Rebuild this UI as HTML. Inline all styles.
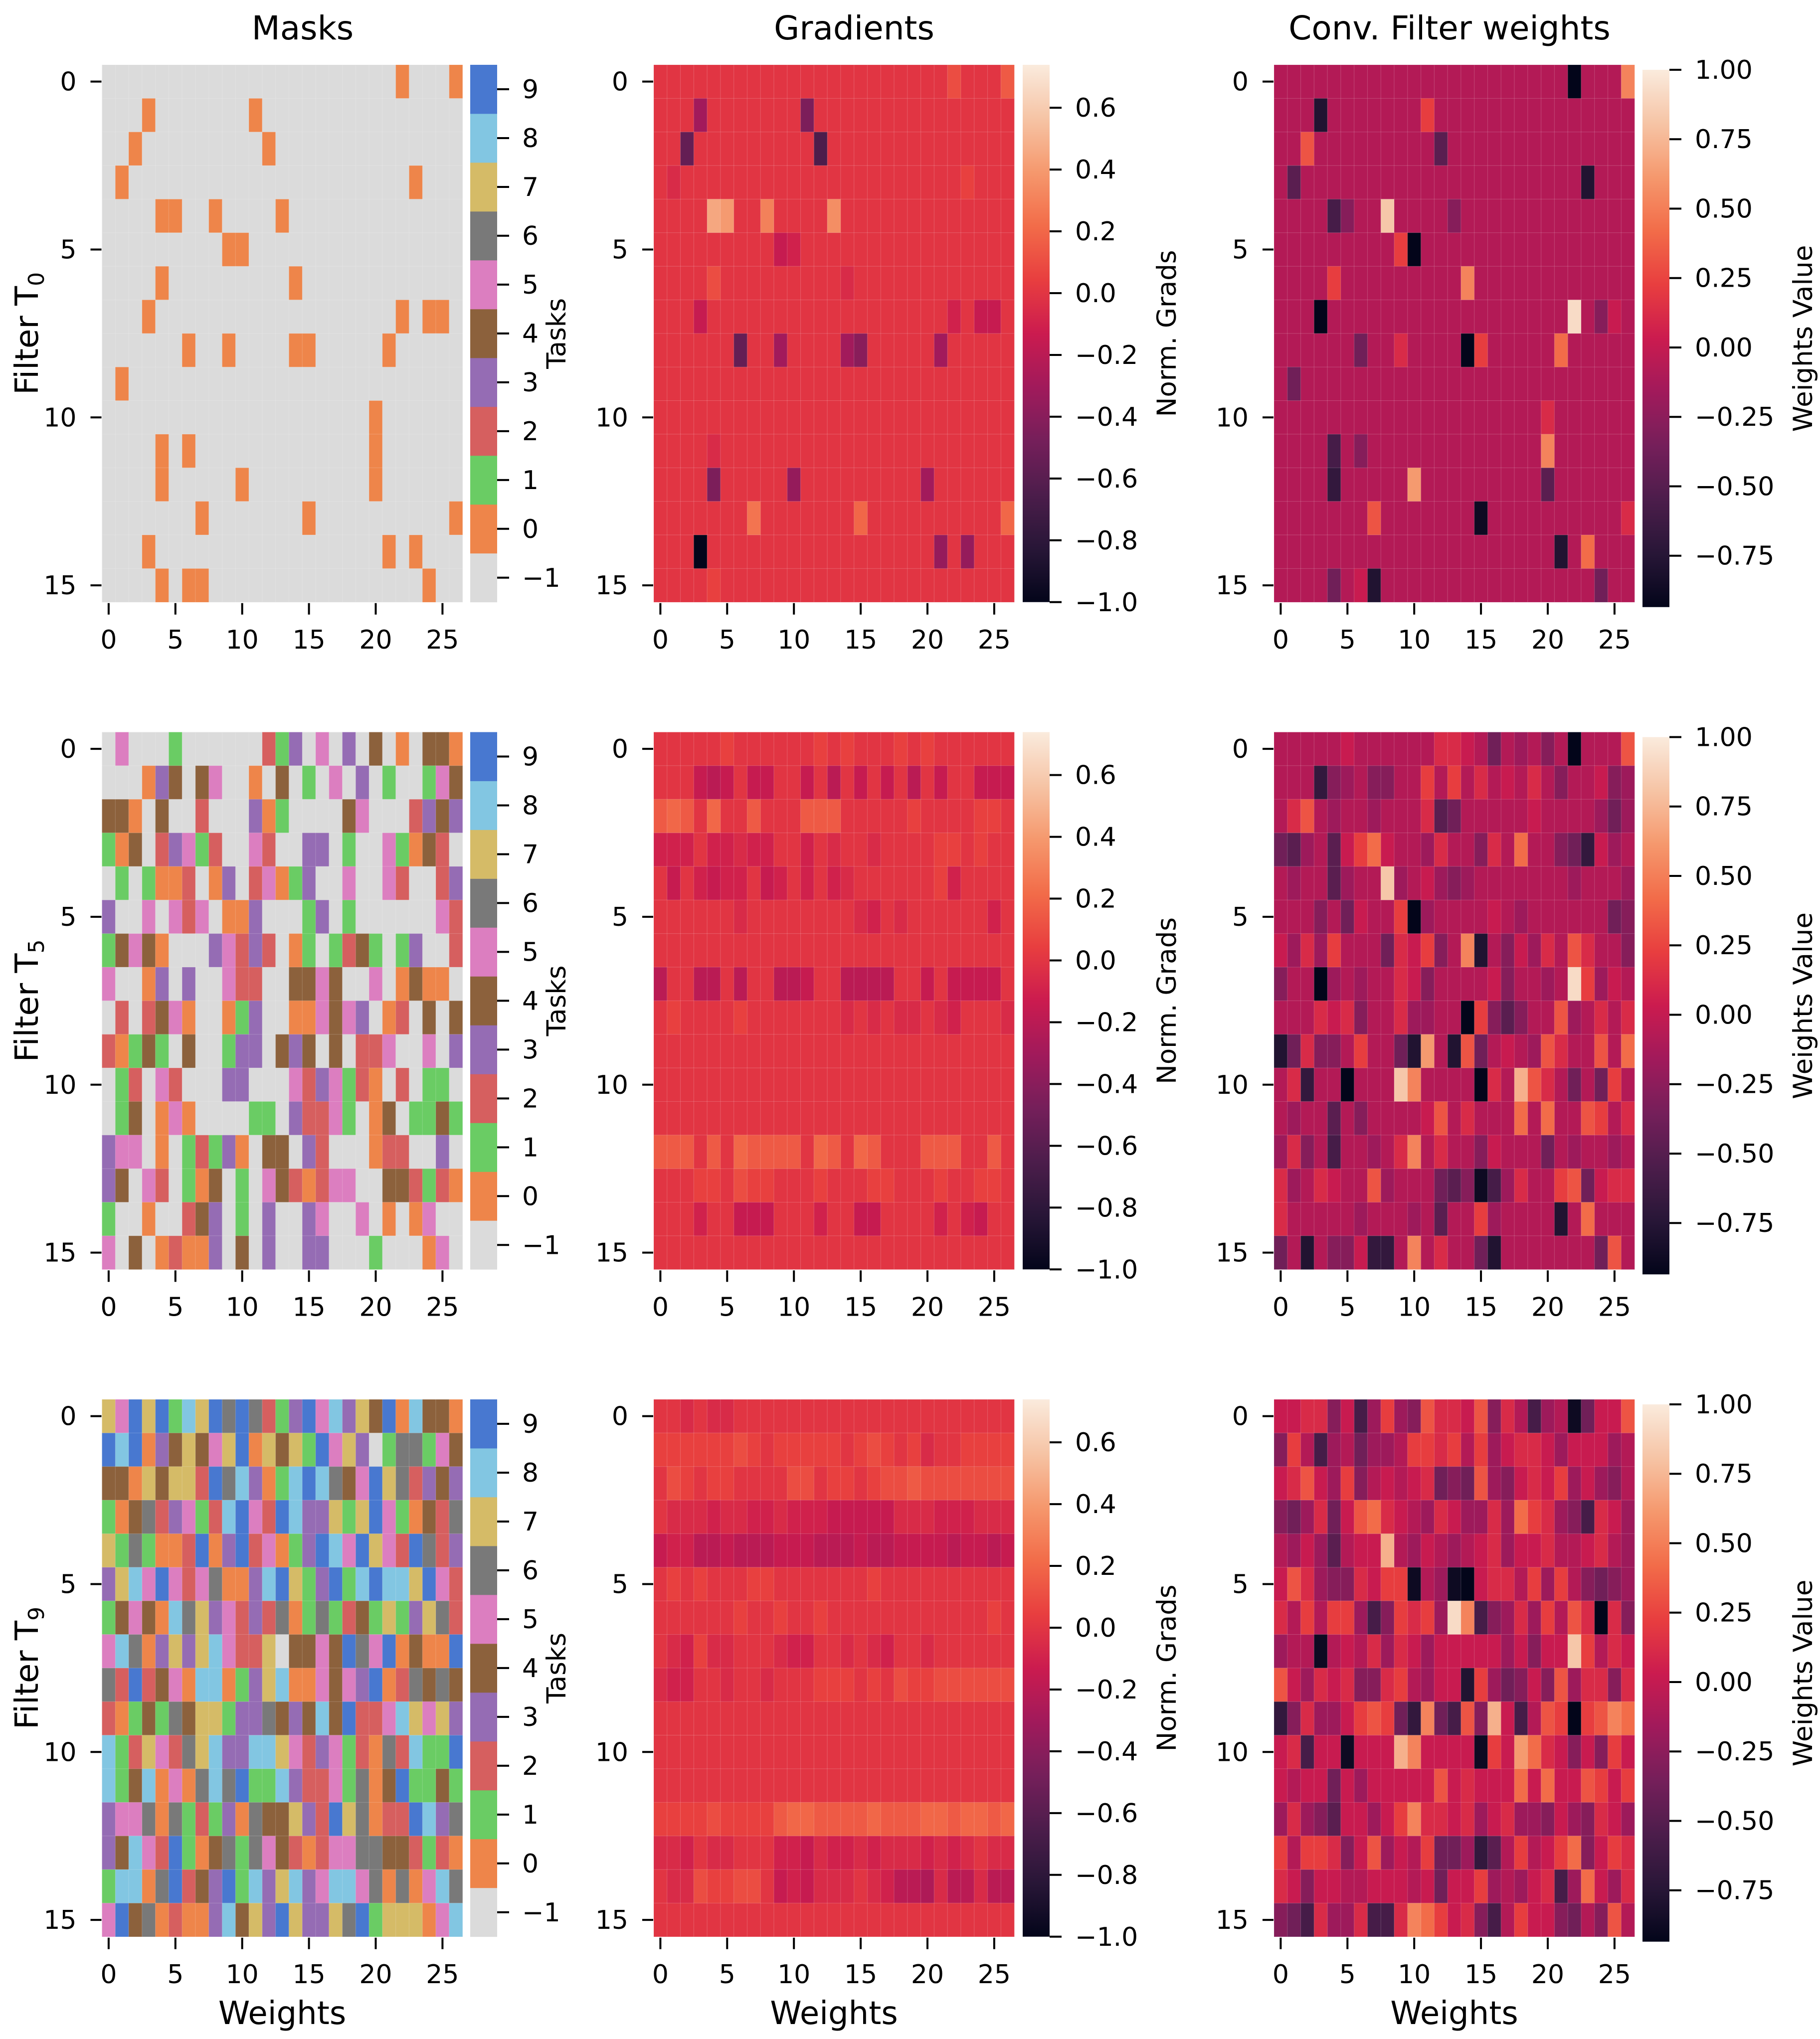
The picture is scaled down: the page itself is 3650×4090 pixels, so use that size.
<!DOCTYPE html>
<html>
<head>
<meta charset="utf-8">
<style>
html,body{margin:0;padding:0;background:#fff;}
svg{display:block;}
text{font-family:"DejaVu Sans","Liberation Sans",sans-serif;fill:#000;}
</style>
</head>
<body>
<svg id="fig" xmlns="http://www.w3.org/2000/svg" width="3650" height="4090" viewBox="0 0 3650 4090">
<rect x="0" y="0" width="3650" height="4090" fill="#fff"/>
<defs id="defs"></defs>
</svg>
<script>
// ---------- DATA ----------
// Masks: '.' = -1 (no task), digits = task id
const maskT0 = [
"......................0...0",
"...0.......0...............",
"..0.........0..............",
".0.....................0...",
"....00..0....0.............",
".........00................",
"....0.........0............",
"...0..................0.00.",
"......0..0....00.....0.....",
".0.........................",
"....................0......",
"....0.0.............0......",
"....0.....0.........0......",
".......0.......0..........0",
"...0.................0.0...",
"....0.00................0.."
];
const maskT5 = [
".5...1......213.5.3.4.0.440",
"...034.45..0.4.1.5.3.1..154",
"440.4..2...301....45...2343",
"104.23512..52..33.1..51042.",
".1.1002.03.25013..5..52..23",
"3..5.525.003...13.1......52",
"14540...35232.01.1241.13..2",
"5..03.3..522..4454..5.0400.",
".2.2450..013..005453.02.4.4",
"20141.4..133.434.4.225..5.3",
".12.52...33...5235120.2.11.",
".14.050....11.32251.04.1141",
"355.0.12130.44.32...022..3.",
"34.52.104.1.5420255..442120",
"1..0..243.1.3..35..5.0.05..",
"5.4.02003.4.3..33...1...05."
];
const maskT9 = [
"759791879696213958374908440",
"98903474579074719573.166154",
"440747729683018986459762343",
"104623512895298337179510426",
"716100290392501398597529623",
"378595256003897139189887952",
"145408673523260161241713762",
"5860373785227.4454965904009",
"629245088013780054539026464",
"201416477133643484922587573",
"812752678338875235120628119",
"814805068691183225160491141",
"355606121306447329760229836",
"348529104616542025566442120",
"188069243918378358856060586",
"594602003847397337691777058"
];
// Gradients: code index i -> value -1 + 0.05*i  (U = 0.0)
const gradCodes = "ABCDEFGHIJKLMNOPQRSTUVWXYZabcdefghijklmnopqrstuvwxyz";
const gradT0 = [
"UUUUUUUUUUUUUUUUUUUUUUWUUUX",
"UUUOUUUUUUULUUUUUUUUUUUUUUU",
"UUJUUUUUUUUUHUUUUUUUUUUUUUU",
"UTUUUUUUUUUUUUUUUUUUUUUVUUU",
"UUUUdcUUaUUUUbUUUUUUUUUUUUU",
"UUUUUUUUURSUUUUUUUUUUUUUUUU",
"UUUUWUUUUUUUUUTUUUUUUUUUUUU",
"UUURUUUUUUUUUUUUUUUUUUSURRU",
"UUUUUUJUUOUUUUOMUUUUUOUUUUU",
"UUUUUUUUUUUUUUUUUUUUUUUUUUU",
"UUUUUUUUUUUUUUUUUUUUUUUUUUU",
"UUUUTUUUUUUUUUUUUUUUUUUUUUU",
"UUUULUUUUUNUUUUUUUUUOUUUUUU",
"UUUUUUUZUUUUUUUYUUUUUUUUUUY",
"UUUAUUUUUUUUUUUUUUUUUNUNUUU",
"UUUUVUUUUUUUUUUUUUUUUUUUUUU"
];
const gradT5 = [
"UUUUUVUUUUUUVUVUUUVUVUUUUUU",
"UUURQRURRUURUQURURUQURUURRR",
"XYXUYUUXUUUXXXUUUUUVUUUUVVU",
"SSSUSSTSSUUSUTUUTUUUUVVUVUU",
"URUSRSSURSUSUSTUUUUUUVSUUUU",
"UUUUUUTUUUUUUUUTSUTUUUUUUSU",
"UUUUUUUUUUUUUUUUUUUUUUUUUUU",
"QUUQQUQUUQQRUUQQQQUURURRRRU",
"UVUUUUVUUUUUUUTUTUTTUTSUUUT",
"UUUUUUUUUUUUUUUUUUUUUUUUUUU",
"UUUUUUUUUUUUUUUUUUUUUUUUUUU",
"UUUUUUUUUUUUUUUUUUUUUUUUUUU",
"XXXUXUYXXXXUYXUYXUUUXXXUUXU",
"UUUVVUWVVUUUVUUUVVUUUVUUVVU",
"UUUSUURRRUUUSUURRUUUUSUSRUU",
"UUUUUUUUUUUUUUUUUUUUUUUUUUU"
];
const gradT9 = [
"UUTUTTUUUUUUUUUUUUUUUUUUUUU",
"VVVVVVWVUVVVVVUVWVUVTUUVVVV",
"UWVUVVUUUUWWUVVUVWWXWWWWWWW",
"UTTTSTTSSTSSSRRRRRTTTSSSTTT",
"RSSQQRQQQRRRQQQRQQRRRRQRRQR",
"UVUVUUUVVUUUUUUUVUUUUUUUUUU",
"UUUUUUVUUVUUVUUUUUUUUUUUUVU",
"UTSVTTUUUTSSUUTUTSUUTUUUUUU",
"TSSUUTUUTUUUVVVUVUWVVWWWWWW",
"UUUUUUUUUUUUUUUUUUUUUUUUUUU",
"UUUUUUUUUUUUUUUUUUUUUUUUUUU",
"UUUUUUUUUUUUUUUUUUUUUUUUUUU",
"VVVVWVVVVXYYXXXXYXXXYYXYYXY",
"TTSUTTUUUSSRTSSTSTTTSTSTUTT",
"UTTWVVWWURSRTTTUTSQQPTQQTQQ",
"UUUUUUUUUUUUUUUUUUUUUUUUUUU"
];
// Weights: code index i -> value -0.98 + 0.1*i
const weightCodes = "ABCDEFGHIJKLMNOPQRST";
const wT0 = [
"JJJJJJJJJJJJJJJJJJJJJJAJJJP",
"JJJCJJJJJJJMJJJJJJJJJJJJJJJ",
"JJNJJJJJJJJJFJJJJJJJJJJJJJJ",
"JFJJJJJJJJJJJJJJJJJJJJJCJJJ",
"JJJJEHJJSJJJJHJJJJJJJJJJJJJ",
"JJJJJJJJJMAJJJJJJJJJJJJJJJJ",
"JJJJMJJJJJJJJJPJJJJJJJJJJJJ",
"JJJAJJJJJJJJJJJJJJJJJJTJHKJ",
"JJJJJJGJJLJJJJAMJJJJJOJJJJJ",
"JGJJJJJJJJJJJJJJJJJJJJJJJJJ",
"JJJJJJJJJJJJJJJJJJJJLJJJJJJ",
"JJJJEJHJJJJJJJJJJJJJPJJJJJJ",
"JJJJDJJJJJQJJJJJJJJJFJJJJJJ",
"JJJJJJJNJJJJJJJBJJJJJJJJJJL",
"JJJJJJJJJJJJJJJJJJJJJCJOJJJ",
"JJJJGJKCJJJJJJJJJJJJJJJJGJJ"
];
const wT5 = [
"JJJJJKJJJJJJLLKJGJIJHJAJJJN",
"JJJDHIJHHJJMJMJLJKJLJHJJKHI",
"JLNJIJJIJJJLFGJJJJJKJJJJIGI",
"GFIJFKMOKJJILJJHLJOJJHGDKIJ",
"JIJJFIJJSIJKIHIJJJJJJJIJJJI",
"JJJHJGKJJMAIJJJJKJIJJJJJJGH",
"KILIMJJJGLKMHJPCJHKILJNLJJH",
"HJJAIJIJJLKHJJJJKHJJIJTMIKJ",
"JJJLKLHJJLIIJJAMHFHJJNIJLJL",
"CGLHHJMJJGCQJCNGJKJINLJJNJO",
"JLDJJAJJJSPJJJJALJRNLJGJGMJ",
"JIJJFJHJJJJKNJLJJJOJOJJNMJL",
"ILHJEJJIJLPJLJJHKJJJGJIJJIJ",
"LIJLKJJNIJJJGFHBEILJJMNGKLL",
"LJJJJJIJJJIJFJJMIJJJJCJOJJJ",
"GJCJHHKDDJPJLJJGCJJJJJJJGNJ"
];
const wT9 = [
"KKLLHKEIMIHNLLKNHLJEIJBGKKN",
"HMJEIJGIIJMMLMJMIKLLKIKKKIJ",
"KLNKIMHJKJKLGHGNIHKLKMIKIHJ",
"HGILGKNOLKJILKIILIOMLIHELKI",
"JIKIFJKKRJIKJIJKLIKKLJJKLJI",
"KNLIHHLKMMBJIBAKLLJMIMJHGHI",
"LJMJMMIEHMLMITPEHILIMJNLALH",
"IJJBJKJLILKIKKKKKIKHKKSMJLK",
"NKILKLHHLMJIKKCMIGHKHNILLHL",
"DHLIIKMNMGDPGENHRKEJNMAMNPO",
"KLEKKBKKKRPKKKKBMKQOLKHKHMK",
"KJKKGKIKKKKKNKLKKKOKOKKNMKM",
"ILIHFKKIKMPLLKLIKLIIHKIHLKI",
"MJMMLHKNIKJMGGIDFJMJKMOHKML",
"LKHKKJJKKKJKGKKMIJIKLEIOKIL",
"HGELIILEELPOMKLHEJMKKHGJHNJ"
];
const colTitles = ["Masks", "Gradients", "Conv. Filter weights"];
const rowTasks = ["0", "5", "9"];
const xTicks = [0, 5, 10, 15, 20, 25];
const yTicks = [0, 5, 10, 15];
const taskTicks = [-1, 0, 1, 2, 3, 4, 5, 6, 7, 8, 9];
const gradTicks = [-1.0, -0.8, -0.6, -0.4, -0.2, 0.0, 0.2, 0.4, 0.6];
const weightTicks = [-0.75, -0.5, -0.25, 0.0, 0.25, 0.5, 0.75, 1.0];

// ---------- SCALES / STYLE ----------
const NS = "http://www.w3.org/2000/svg";
const svg = document.getElementById("fig");
const defs = document.getElementById("defs");
const NCOL = 27, NROW = 16;
const X0 = [204.5, 1311, 2555];
const Y0 = [130, 1468.5, 2807];
const CW = 26.78, CH = 67.36;
const HW = CW * NCOL, HH = CH * NROW;
const CB_X = [943, 2051, 3294], CB_W = 54;
const GRAD_MIN = -1.0, GRAD_MAX = 0.739;
const W_MIN = -0.935, W_MAX = 1.0, W_OFF = 10;
const taskColors = {"-1":"#dbdbdb","0":"#ee854a","1":"#6acc64","2":"#d65f5f","3":"#956cb4","4":"#8c613c","5":"#dc7ec0","6":"#797979","7":"#d5bb67","8":"#82c6e2","9":"#4878d0"};
const rocketStops = [[0,[3,5,26]],[0.1,[40,22,55]],[0.2,[76,29,75]],[0.3,[117,31,90]],[0.4,[161,26,91]],[0.5,[203,27,79]],[0.6,[232,62,63]],[0.7,[242,108,73]],[0.8,[245,152,109]],[0.9,[246,196,165]],[1.0,[250,235,221]]];
function rocket(f){
  f = Math.max(0, Math.min(1, f));
  for (let i = 1; i < rocketStops.length; i++){
    if (f <= rocketStops[i][0]){
      const [a, ca] = rocketStops[i-1], [b, cb] = rocketStops[i];
      const t = (f - a) / (b - a);
      const c = ca.map((v, k) => Math.round(v + (cb[k] - v) * t));
      return "rgb(" + c.join(",") + ")";
    }
  }
  return "rgb(250,235,221)";
}
function xPos(c, j){ return X0[c] + j * CW; }
function yPos(r, i){ return Y0[r] + i * CH; }
function gradVal(ch){ const i = gradCodes.indexOf(ch); return -1 + 0.05 * (i < 0 ? 20 : i); }
function weightVal(ch){ const i = weightCodes.indexOf(ch); return -0.98 + 0.1 * (i < 0 ? 9 : i); }
function gradY(r, v){ return Y0[r] + HH * (GRAD_MAX - v) / (GRAD_MAX - GRAD_MIN); }
function weightY(r, v){ return Y0[r] + W_OFF + HH * (W_MAX - v) / (W_MAX - W_MIN); }
function fmt(v, d){ const s = Math.abs(v).toFixed(d); return (v < -1e-9 ? "\u2212" : "") + s; }

function el(tag, attrs, parent){
  const e = document.createElementNS(NS, tag);
  for (const k in attrs) e.setAttribute(k, attrs[k]);
  (parent || svg).appendChild(e);
  return e;
}
function txt(str, attrs, parent){
  const t = el("text", attrs, parent);
  t.textContent = str;
  return t;
}

// ---------- DRAW ----------
const datasets = [[maskT0, gradT0, wT0],[maskT5, gradT5, wT5],[maskT9, gradT9, wT9]];
const kinds = ["mask","grad","weight"];

for (let c = 0; c < 3; c++){
  const t = txt(colTitles[c], {x: [607, 1713, 2907][c], y: 79, "font-size": 66, "text-anchor": "middle"});
  
  
}

for (let r = 0; r < 3; r++){
  for (let c = 0; c < 3; c++){
    const data = datasets[r][c];
    const g = el("g", {});
    
    
    for (let i = 0; i < NROW; i++){
      const row = (data[i] || "");
      for (let j = 0; j < NCOL; j++){
        const ch = row[j] !== undefined ? row[j] : (c === 0 ? "." : (c === 1 ? "U" : "J"));
        let fill;
        if (c === 0) fill = taskColors[ch === "." || ch === " " ? "-1" : ch];
        else if (c === 1) fill = rocket((gradVal(ch) - GRAD_MIN) / (GRAD_MAX - GRAD_MIN));
        else fill = rocket((weightVal(ch) - W_MIN) / (W_MAX - W_MIN));
        const cell = el("rect", {x: xPos(c, j).toFixed(2), y: yPos(r, i).toFixed(2), width: (CW + 0.3).toFixed(2), height: (CH + 0.3).toFixed(2), fill: fill, stroke: "rgba(255,255,255,0.14)", "stroke-width": 1.2}, g);
        
        
      }
    }
    // x ticks
    const xa = el("g", {});
    
    
    for (const tv of xTicks){
      const x = xPos(c, tv + 0.5);
      const yb = Y0[r] + HH;
      el("line", {x1: x, x2: x, y1: yb + 2, y2: yb + 25, stroke: "#000", "stroke-width": 4}, xa);
      const lab = txt(String(tv), {x: x, y: yb + 93, "font-size": 52, "text-anchor": "middle"}, xa);
      
      
    }
    // y ticks
    const ya = el("g", {});
    
    
    for (const tv of yTicks){
      const y = yPos(r, tv + 0.5);
      el("line", {x1: X0[c] - 23, x2: X0[c] - 1, y1: y, y2: y, stroke: "#000", "stroke-width": 4}, ya);
      const lab = txt(String(tv), {x: X0[c] - 51, y: y + 18, "font-size": 52, "text-anchor": "end"}, ya);
      
      
    }
    // colorbars
    const cb = el("g", {});
    
    
    const cx = CB_X[c];
    if (c === 0){
      const bh = HH / taskTicks.length;
      taskTicks.forEach((tv, k) => {
        const yTop = Y0[r] + HH - (k + 1) * bh;
        const b = el("rect", {x: cx, y: yTop.toFixed(2), width: CB_W, height: (bh + 0.4).toFixed(2), fill: taskColors[String(tv)]}, cb);
        
        
        const yc = yTop + bh / 2;
        el("line", {x1: cx + CB_W, x2: cx + CB_W + 24, y1: yc, y2: yc, stroke: "#000", "stroke-width": 4}, cb);
        const lab = txt(fmt(tv, 0), {x: cx + CB_W + 50, y: yc + 18, "font-size": 52}, cb);
        
        
      });
    } else {
      const isG = c === 1;
      const vmin = isG ? GRAD_MIN : W_MIN, vmax = isG ? GRAD_MAX : W_MAX;
      const top = isG ? Y0[r] : Y0[r] + W_OFF;
      const gid = "cbg" + r + c;
      const lg = el("linearGradient", {id: gid, x1: 0, y1: 1, x2: 0, y2: 0}, defs);
      for (let s = 0; s <= 20; s++){
        el("stop", {offset: (s / 20).toFixed(2), "stop-color": rocket(s / 20)}, lg);
      }
      const bar = el("rect", {x: cx, y: top, width: CB_W, height: HH, fill: "url(#" + gid + ")"}, cb);
      
      
      const ticks = isG ? gradTicks : weightTicks;
      for (const tv of ticks){
        const y = isG ? gradY(r, tv) : weightY(r, tv);
        el("line", {x1: cx + CB_W, x2: cx + CB_W + 24, y1: y, y2: y, stroke: "#000", "stroke-width": 4}, cb);
        const lab = txt(fmt(tv, isG ? 1 : 2), {x: cx + CB_W + 51, y: y + 18, "font-size": 52}, cb);
        
        
      }
    }
    // colorbar label
    const lblX = [1134, 2358, 3634][c];
    const midY = Y0[r] + HH / 2 + (c === 2 ? W_OFF : 0);
    const cl = txt(["Tasks", "Norm. Grads", "Weights Value"][c], {x: lblX, y: midY, "font-size": 53, "text-anchor": "middle", transform: "rotate(-90 " + lblX + " " + midY + ")"});
    
    
  }
  // y label
  const my = Y0[r] + HH / 2;
  const yl = el("text", {x: 76, y: my, "font-size": 64, "text-anchor": "middle", transform: "rotate(-90 76 " + my + ")"});
  
  
  const t1 = document.createElementNS(NS, "tspan"); t1.textContent = "Filter T"; yl.appendChild(t1);
  const t2 = document.createElementNS(NS, "tspan"); t2.textContent = rowTasks[r];
  t2.setAttribute("font-size", 44); t2.setAttribute("dy", 12); yl.appendChild(t2);
}
// x labels (bottom row)
for (let c = 0; c < 3; c++){
  const xl = txt("Weights", {x: X0[c] + HW / 2, y: 4060, "font-size": 64, "text-anchor": "middle"});
  
  
}
</script>
</body>
</html>
